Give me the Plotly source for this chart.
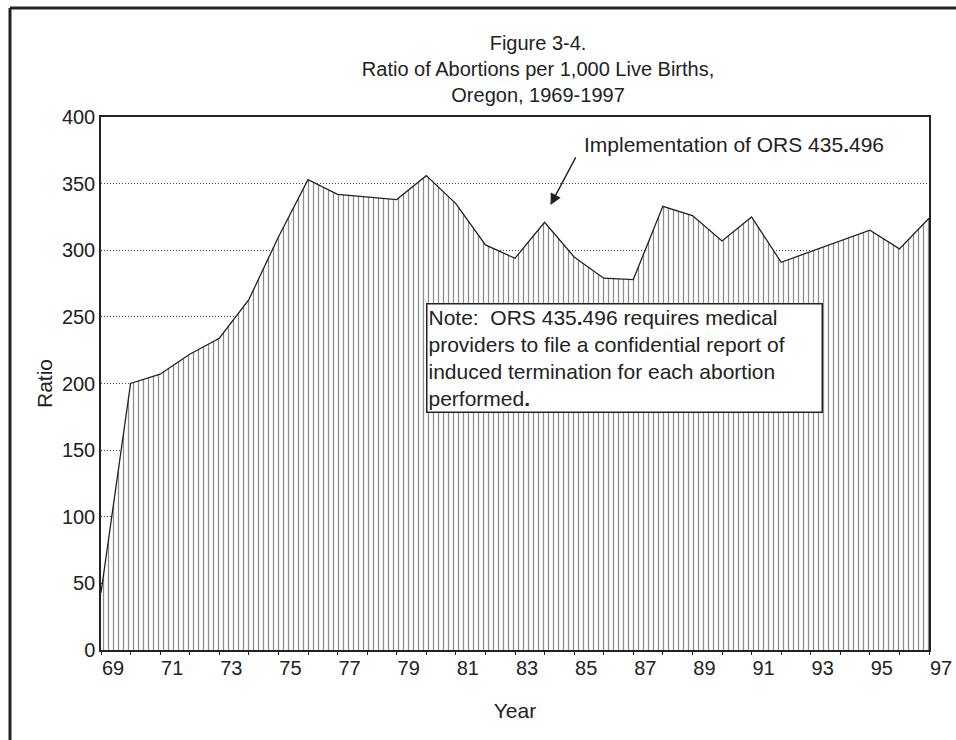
import plotly.graph_objects as go

# Données : ratio d'avortements pour 1 000 naissances vivantes, Oregon
annees = list(range(1969, 1998))
ratio = [43, 200, 207, 222, 234, 263, 310, 353, 342, 340, 338, 356, 335, 304, 294,
         321, 295, 279, 278, 333, 326, 307, 325, 291, 299, 307, 315, 301, 324]
etiquettes_x = [str(a)[2:] if a % 2 == 1 else "" for a in annees]
valeurs_y = [0, 50, 100, 150, 200, 250, 300, 350, 400]

police = "Liberation Sans, Arial, sans-serif"
encre = "#222222"

fig = go.Figure()

fig.add_trace(go.Scatter(
    x=annees,
    y=ratio,
    mode="lines",
    line=dict(color=encre, width=1.3),
    fill="tozeroy",
    fillcolor="rgba(0,0,0,0)",
    fillpattern=dict(shape="|", size=5, solidity=0.25, fgcolor="#1a1a1a", bgcolor="white"),
    showlegend=False,
    hoverinfo="x+y"
))

# Flèche et texte de l'implémentation
fig.add_annotation(x=1984.2, y=334, xref="x", yref="y", text="", showarrow=True,
                   ax=26, ay=-49, arrowhead=2, arrowsize=1.6, arrowwidth=1.4,
                   arrowcolor=encre)
fig.add_annotation(x=1985.27, y=379, xref="x", yref="y", xanchor="left", yanchor="middle",
                   text="Implementation of ORS 435<b>.</b>496", showarrow=False,
                   font=dict(family=police, size=21, color=encre))

# Encadré de la note
fig.add_annotation(x=1980.0, y=260.4, xref="x", yref="y", xanchor="left", yanchor="top",
                   align="left", showarrow=False, width=392,
                   text="Note:  ORS 435<b>.</b>496 requires medical<br>"
                        "providers to file a confidential report of<br>"
                        "induced termination for each abortion<br>"
                        "performed<b>.</b>",
                   font=dict(family=police, size=21, color=encre),
                   bgcolor="white", bordercolor=encre, borderwidth=1.5, borderpad=1)

# Cadre extérieur (haut et gauche)
fig.add_shape(type="line", xref="paper", yref="paper", x0=-0.11, x1=1.1, y0=1.2045, y1=1.2045,
              line=dict(color=encre, width=3))
fig.add_shape(type="line", xref="paper", yref="paper", x0=-0.1099, x1=-0.1099, y0=-0.2, y1=1.2045,
              line=dict(color=encre, width=3))

fig.update_layout(
    title=dict(text="Figure 3-4.<br>Ratio of Abortions per 1,000 Live Births,<br>Oregon, 1969-1997",
               x=0.5628, xanchor="center", y=0.932, yanchor="top",
               font=dict(family=police, size=20, color=encre)),
    width=956,
    height=740,
    margin=dict(l=101, r=27, t=117, b=90),
    paper_bgcolor="white",
    plot_bgcolor="white",
    font=dict(family=police, color=encre),
    xaxis=dict(
        range=[1969, 1997],
        automargin=False,
        tickmode="array",
        tickvals=annees,
        ticktext=etiquettes_x,
        ticks="outside",
        ticklen=3,
        tickcolor=encre,
        ticklabelshift=12,
        ticklabelstandoff=-4,
        ticklabeloverflow="allow",
        tickfont=dict(size=20),
        showgrid=False,
        zeroline=False,
        showline=True,
        linecolor=encre,
        linewidth=1.5,
        mirror=True,
        title=dict(text="Year", font=dict(size=21), standoff=26),
    ),
    yaxis=dict(
        range=[0, 400],
        automargin=False,
        tickmode="array",
        tickvals=valeurs_y,
        ticks="",
        tickfont=dict(size=20),
        showgrid=True,
        gridcolor="#444444",
        griddash="1px,2px",
        gridwidth=1,
        zeroline=False,
        showline=True,
        linecolor=encre,
        linewidth=1.5,
        mirror=True,
        title=dict(text="Ratio", font=dict(size=21), standoff=4),
    ),
)

# Page sans marge ni barre de défilement, figure à taille fixe
script_page = ("document.documentElement.style.overflow='hidden';"
               "document.body.style.overflow='hidden';"
               "document.body.style.margin='0';")
fig.write_html("out.html",
               config={"displayModeBar": False, "responsive": False},
               post_script=script_page)
